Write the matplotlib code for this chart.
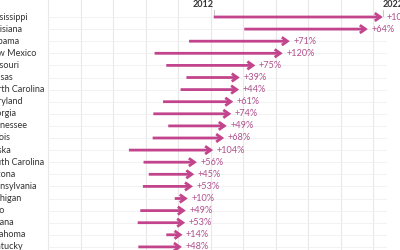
import matplotlib
matplotlib.use("Agg")
import matplotlib.pyplot as plt

states = ["Mississippi", "Louisiana", "Alabama", "New Mexico", "Missouri", "Kansas",
          "North Carolina", "Maryland", "Georgia", "Tennessee", "Illinois", "Alaska",
          "South Carolina", "Arizona", "Pennsylvania", "Michigan", "Ohio", "Indiana",
          "Oklahoma", "Kentucky"]
v2012 = [25.5, 30.2, 21.7, 16.4, 18.2, 21.3, 20.4, 17.7, 16.2, 18.5, 16.1, 12.45,
         14.7, 15.5, 14.6, 19.5, 14.2, 13.8, 18.2, 13.9]
v2022 = [51.5, 49.2, 37.2, 36.1, 31.9, 29.5, 29.4, 28.5, 28.2, 27.5, 27.1, 25.4,
         22.9, 22.5, 22.3, 21.5, 21.2, 21.1, 20.7, 20.6]
pct_labels = ["+103%", "+64%", "+71%", "+120%", "+75%", "+39%", "+44%", "+61%", "+74%",
              "+49%", "+68%", "+104%", "+56%", "+45%", "+53%", "+10%", "+49%", "+53%",
              "+14%", "+48%"]
year_labels = ["2012", "2022"]
grid_ticks = [0, 5, 10, 15, 20, 25, 30, 35, 40, 45, 50]

ARROW = "#c2448c"
PCT = "#b0508e"
TEXT = "#333333"
GRID = "#e8e8e8"

fig = plt.figure(figsize=(4, 2.5), dpi=100)
ax = fig.add_axes([0, 0, 1, 1])
ax.set_xlim(-48 / 6.5, 352 / 6.5)
ax.set_ylim((250 - 17) / 12.1, -17 / 12.1)
ax.axis("off")

for g in grid_ticks:
    ax.axvline(g, color=GRID, lw=0.8, zorder=0)
for i in range(len(states)):
    ax.plot([0, 52], [i, i], color="#f0f0f0", lw=0.6, zorder=0)

font = "Lato"
for i, (s, a, b, lab) in enumerate(zip(states, v2012, v2022, pct_labels)):
    ax.text(-9.6, i, s, ha="left", va="center", fontsize=6.5, color=TEXT,
            family=font, clip_on=False)
    ax.annotate("", xy=(b, i), xytext=(a, i),
                arrowprops=dict(arrowstyle="->,head_length=0.4,head_width=0.28",
                                lw=2.0, color=ARROW, shrinkA=0, shrinkB=0,
                                joinstyle="miter", capstyle="butt"))
    ax.annotate(lab, xy=(b, i), xytext=(2.5, 0), textcoords="offset points",
                ha="left", va="center", fontsize=6.6, color=PCT, family=font)

# year annotations over the first row
y_top = -1.0
ax.plot([v2012[0], v2012[0]], [-0.6, -0.1], color="#bbbbbb", lw=0.6)
ax.plot([v2022[0], v2022[0]], [-0.6, -0.1], color="#bbbbbb", lw=0.6)
ax.text(v2012[0], y_top, year_labels[0], ha="right", va="center", fontsize=6.5,
        fontweight="bold", color=TEXT, family=font)
ax.text(v2022[0], y_top, year_labels[1], ha="left", va="center", fontsize=6.5,
        fontweight="bold", color=TEXT, family=font)

fig.savefig("out.png", dpi=100)
